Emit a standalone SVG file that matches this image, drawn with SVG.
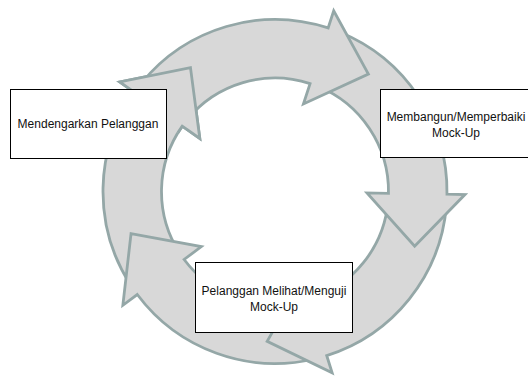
<svg xmlns="http://www.w3.org/2000/svg" xmlns:xlink="http://www.w3.org/1999/xlink" width="528" height="376" viewBox="0 0 528 376">
<style>
.arrow{fill:#D8D8D8;stroke:#94A7A7;stroke-width:2.8;stroke-linejoin:miter;stroke-miterlimit:10}
.box{fill:#FFFFFF;stroke:#000000;stroke-width:1}
.lbl{font-family:"Liberation Sans",Arial,sans-serif;font-size:12px;fill:#111111;text-anchor:middle}
</style>
<defs>
<clipPath id="headClip">
<polygon points="275,191.5 52.1,57.6 101.0,-1.7 165.1,-44.1"/>
</clipPath>
</defs>
<rect width="528" height="376" fill="#FFFFFF"/>
<g id="connectors">
<path id="arrow5" class="arrow" d="M130.42,284.67 A172,172 0 0 1 134.45,92.35 L119.74,81.98 L190.47,67.58 L199.82,138.47 L182.25,126.08 A113.5,113.5 0 0 0 179.60,252.98 Z"/>
<path id="arrow4" class="arrow" d="M315.15,358.75 A172,172 0 0 1 137.27,294.53 L122.86,305.31 L131.03,233.60 L201.33,246.61 L184.12,259.49 A113.5,113.5 0 0 0 301.50,301.86 Z"/>
<path id="arrow3" class="arrow" d="M446.37,206.19 A172,172 0 0 1 326.72,355.54 L332.13,372.71 L267.15,341.29 L302.67,279.24 L309.13,299.75 A113.5,113.5 0 0 0 388.09,201.20 Z"/>
<path id="arrow2" class="arrow" d="M339.43,32.02 A172,172 0 0 1 446.98,194.20 L464.98,194.48 L414.66,246.23 L366.99,192.95 L388.49,193.28 A113.5,113.5 0 0 0 317.52,86.27 Z"/>
<path id="arrow1" class="arrow" d="M141.71,82.79 A172,172 0 0 1 328.15,27.92 L333.71,10.80 L368.38,74.11 L303.43,104.00 L310.07,83.56 A113.5,113.5 0 0 0 187.04,119.76 Z"/>
<use xlink:href="#arrow5" href="#arrow5" clip-path="url(#headClip)"/>
</g>
<g id="node-mendengarkan">
<rect class="box" x="10.5" y="89.5" width="156" height="69"/>
<text class="lbl" x="88" y="128">Mendengarkan Pelanggan</text>
</g>
<g id="node-membangun">
<rect class="box" x="380.5" y="89.5" width="160" height="68"/>
<text class="lbl" x="456" y="121">Membangun/Memperbaiki</text>
<text class="lbl" x="456" y="137">Mock-Up</text>
</g>
<g id="node-pelanggan-melihat">
<rect class="box" x="195.5" y="262.5" width="157" height="70"/>
<text class="lbl" x="274" y="294.5">Pelanggan Melihat/Menguji</text>
<text class="lbl" x="274" y="311">Mock-Up</text>
</g>
</svg>
